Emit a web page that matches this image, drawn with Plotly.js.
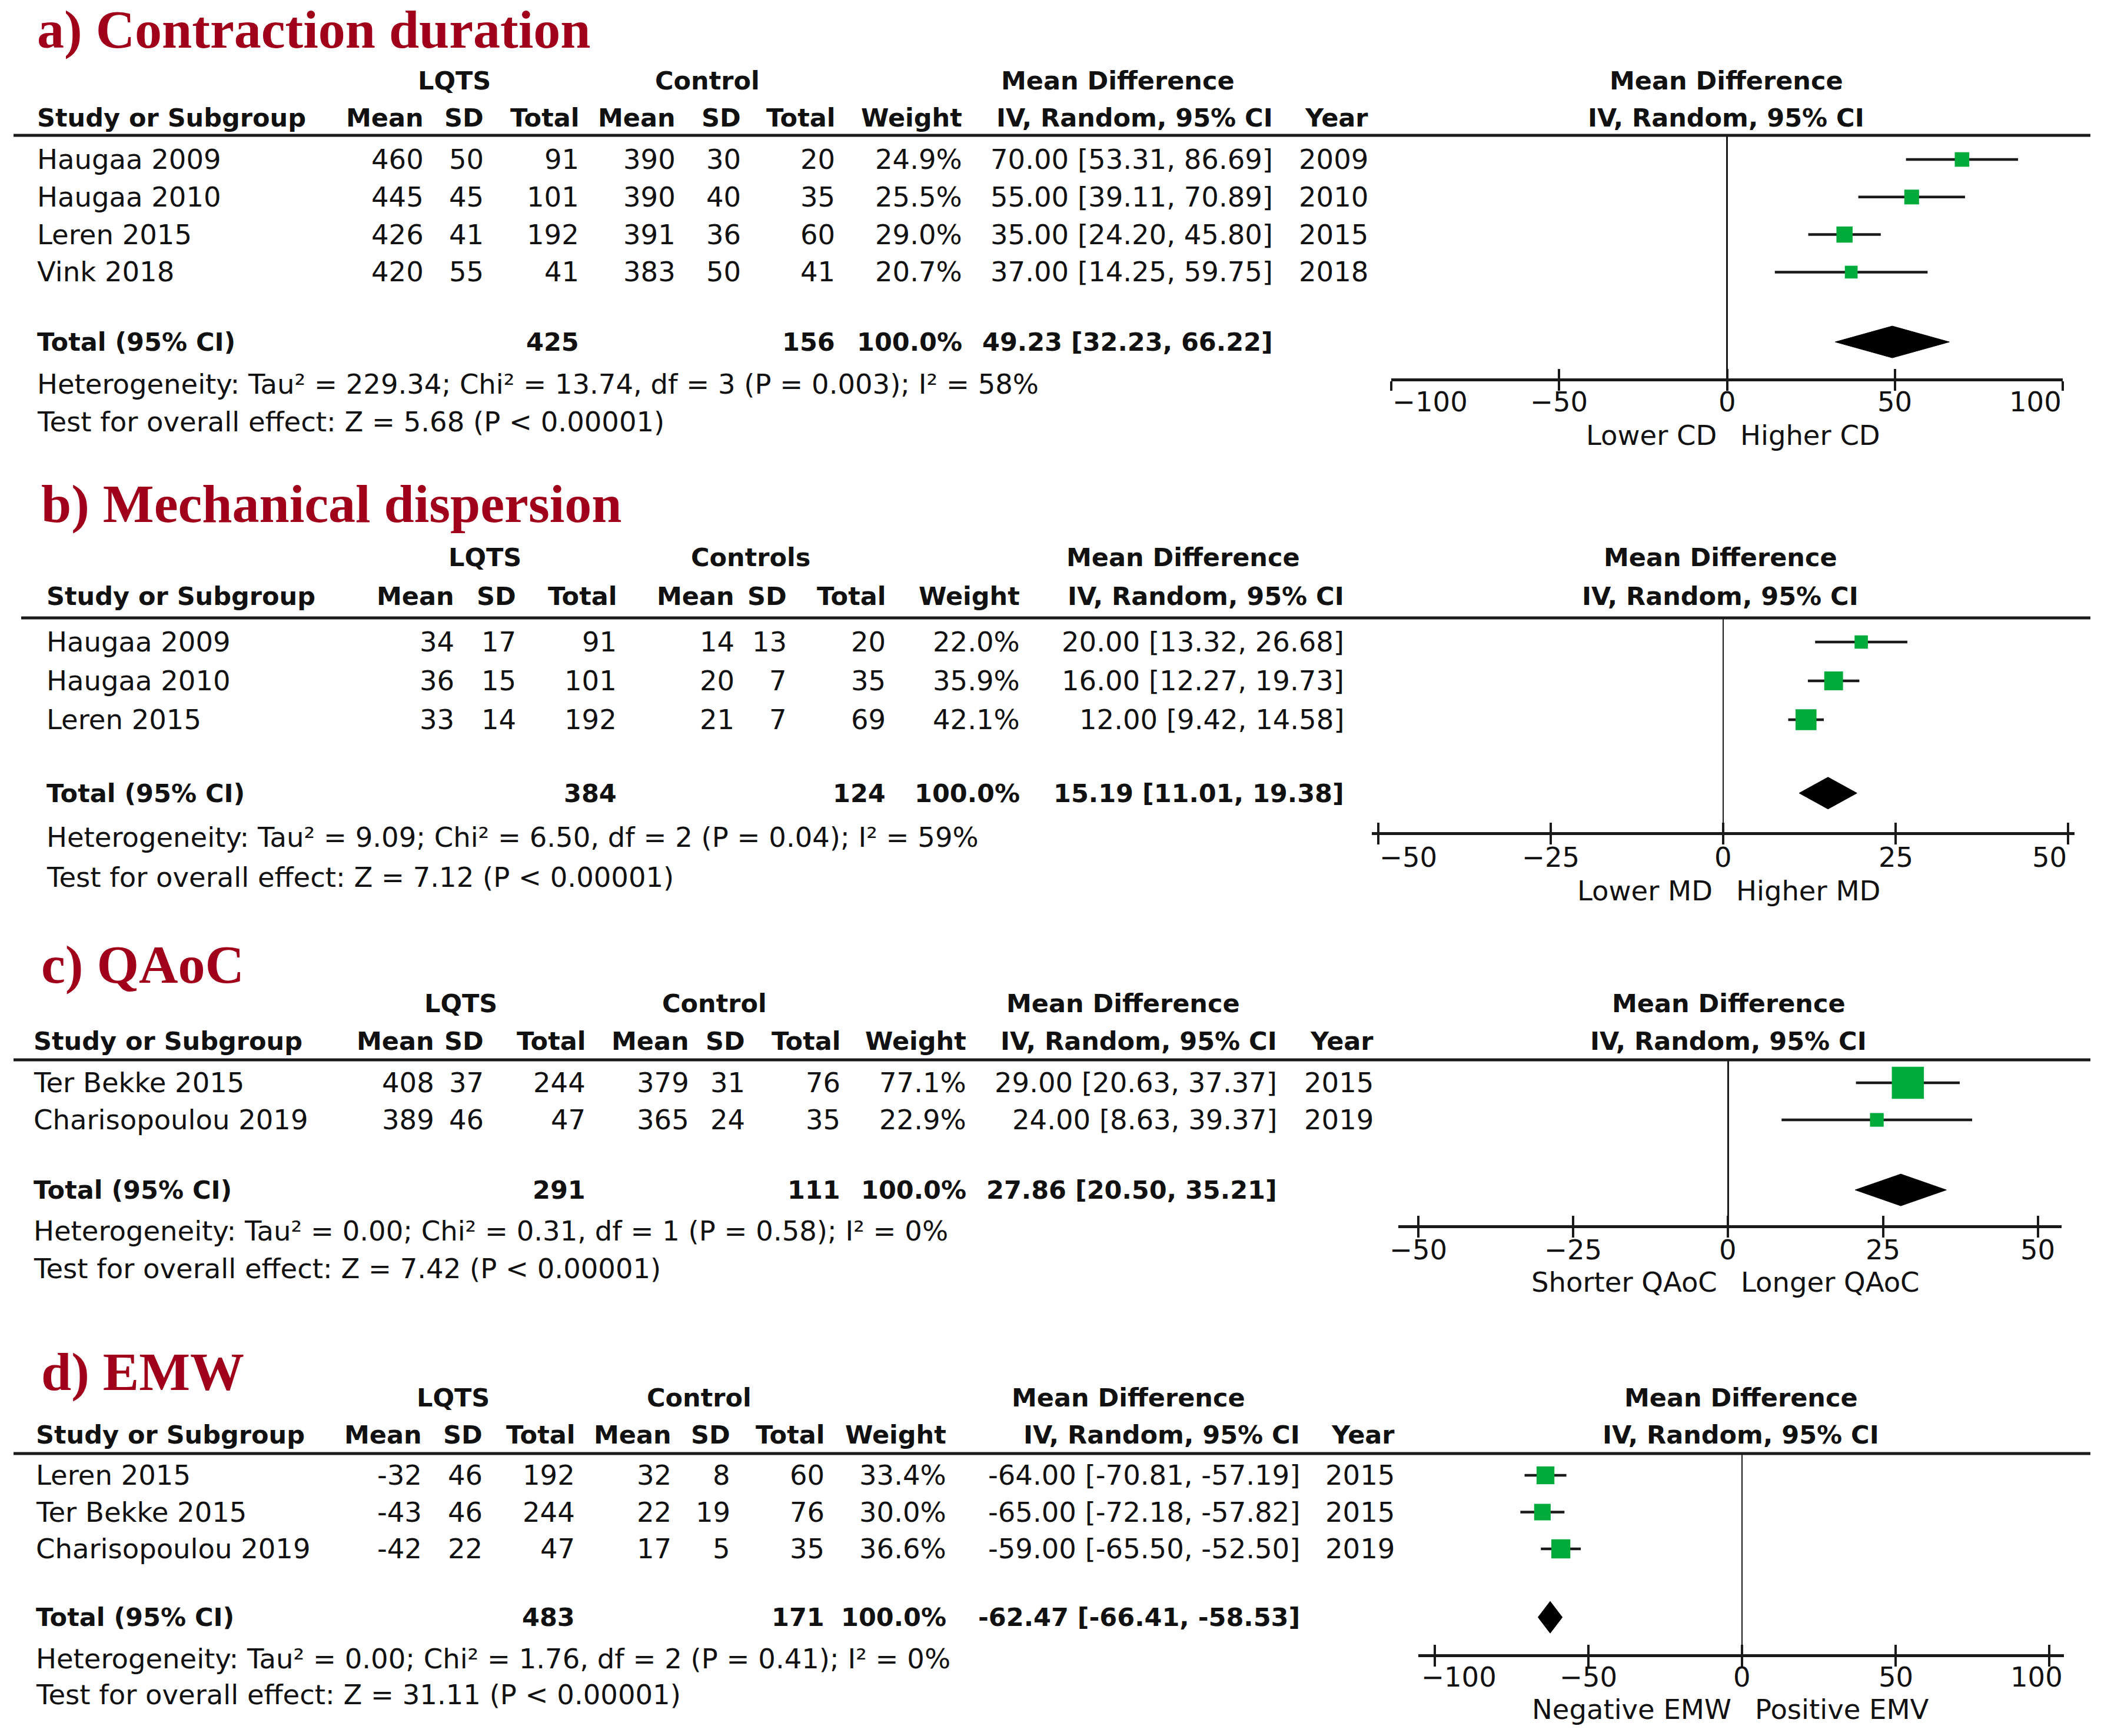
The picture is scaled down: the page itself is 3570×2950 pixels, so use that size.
<!DOCTYPE html>
<html><head><meta charset="utf-8">
<script src="https://cdn.plot.ly/plotly-3.0.1.min.js"></script>
<style>html,body{margin:0;padding:0;background:#fff}</style>
</head><body><div id="chart" style="width:3570px;height:2950px"></div>
<script>
const W = 3570, H = 2950;

// ---------- a) Contraction duration ----------
const aTitle = 'a) Contraction duration';
const aGroups = ['LQTS', 'Control'];
const aStudy = ['Haugaa 2009', 'Haugaa 2010', 'Leren 2015', 'Vink 2018'];
const aLqtsMean = [460, 445, 426, 420];
const aLqtsSD = [50, 45, 41, 55];
const aLqtsN = [91, 101, 192, 41];
const aCtrlMean = [390, 390, 391, 383];
const aCtrlSD = [30, 40, 36, 50];
const aCtrlN = [20, 35, 60, 41];
const aWeight = [24.9, 25.5, 29.0, 20.7];
const aMD = [70.00, 55.00, 35.00, 37.00];
const aLo = [53.31, 39.11, 24.20, 14.25];
const aHi = [86.69, 70.89, 45.80, 59.75];
const aYear = [2009, 2010, 2015, 2018];
const aTotalN = [425, 156];
const aTotalW = 100.0;
const aPooled = [49.23, 32.23, 66.22];
const aHet = 'Heterogeneity: Tau\u00b2 = 229.34; Chi\u00b2 = 13.74, df = 3 (P = 0.003); I\u00b2 = 58%';
const aTest = 'Test for overall effect: Z = 5.68 (P &lt; 0.00001)';
const aTicks = [-100, -50, 0, 50, 100];
const aDir = ['Lower CD', 'Higher CD'];

// ---------- b) Mechanical dispersion ----------
const bTitle = 'b) Mechanical dispersion';
const bGroups = ['LQTS', 'Controls'];
const bStudy = ['Haugaa 2009', 'Haugaa 2010', 'Leren 2015'];
const bLqtsMean = [34, 36, 33];
const bLqtsSD = [17, 15, 14];
const bLqtsN = [91, 101, 192];
const bCtrlMean = [14, 20, 21];
const bCtrlSD = [13, 7, 7];
const bCtrlN = [20, 35, 69];
const bWeight = [22.0, 35.9, 42.1];
const bMD = [20.00, 16.00, 12.00];
const bLo = [13.32, 12.27, 9.42];
const bHi = [26.68, 19.73, 14.58];
const bYear = null;
const bTotalN = [384, 124];
const bTotalW = 100.0;
const bPooled = [15.19, 11.01, 19.38];
const bHet = 'Heterogeneity: Tau\u00b2 = 9.09; Chi\u00b2 = 6.50, df = 2 (P = 0.04); I\u00b2 = 59%';
const bTest = 'Test for overall effect: Z = 7.12 (P &lt; 0.00001)';
const bTicks = [-50, -25, 0, 25, 50];
const bDir = ['Lower MD', 'Higher MD'];

// ---------- c) QAoC ----------
const cTitle = 'c) QAoC';
const cGroups = ['LQTS', 'Control'];
const cStudy = ['Ter Bekke 2015', 'Charisopoulou 2019'];
const cLqtsMean = [408, 389];
const cLqtsSD = [37, 46];
const cLqtsN = [244, 47];
const cCtrlMean = [379, 365];
const cCtrlSD = [31, 24];
const cCtrlN = [76, 35];
const cWeight = [77.1, 22.9];
const cMD = [29.00, 24.00];
const cLo = [20.63, 8.63];
const cHi = [37.37, 39.37];
const cYear = [2015, 2019];
const cTotalN = [291, 111];
const cTotalW = 100.0;
const cPooled = [27.86, 20.50, 35.21];
const cHet = 'Heterogeneity: Tau\u00b2 = 0.00; Chi\u00b2 = 0.31, df = 1 (P = 0.58); I\u00b2 = 0%';
const cTest = 'Test for overall effect: Z = 7.42 (P &lt; 0.00001)';
const cTicks = [-50, -25, 0, 25, 50];
const cDir = ['Shorter QAoC', 'Longer QAoC'];

// ---------- d) EMW ----------
const dTitle = 'd) EMW';
const dGroups = ['LQTS', 'Control'];
const dStudy = ['Leren 2015', 'Ter Bekke 2015', 'Charisopoulou 2019'];
const dLqtsMean = [-32, -43, -42];
const dLqtsSD = [46, 46, 22];
const dLqtsN = [192, 244, 47];
const dCtrlMean = [32, 22, 17];
const dCtrlSD = [8, 19, 5];
const dCtrlN = [60, 76, 35];
const dWeight = [33.4, 30.0, 36.6];
const dMD = [-64.00, -65.00, -59.00];
const dLo = [-70.81, -72.18, -65.50];
const dHi = [-57.19, -57.82, -52.50];
const dYear = [2015, 2015, 2019];
const dTotalN = [483, 171];
const dTotalW = 100.0;
const dPooled = [-62.47, -66.41, -58.53];
const dHet = 'Heterogeneity: Tau\u00b2 = 0.00; Chi\u00b2 = 1.76, df = 2 (P = 0.41); I\u00b2 = 0%';
const dTest = 'Test for overall effect: Z = 31.11 (P &lt; 0.00001)';
const dTicks = [-100, -50, 0, 50, 100];
const dDir = ['Negative EMW', 'Positive EMV'];

// ---------- panel assembly (data refs + placement in px) ----------
const panels = [
  {title:aTitle, groups:aGroups, study:aStudy, m1:aLqtsMean, sd1:aLqtsSD, n1:aLqtsN, m2:aCtrlMean, sd2:aCtrlSD, n2:aCtrlN,
   w:aWeight, md:aMD, lo:aLo, hi:aHi, year:aYear, totN:aTotalN, totW:aTotalW, pooled:aPooled, het:aHet, test:aTest, ticks:aTicks, dir:aDir,
   L:{titleX:61, titleY:50, h1Y:137, h2Y:200, lineY:230, lineX0:23, rowStart:271, gap:63.8, totalOff:1.86, axisY:643,
      tickY:683, dirY:740, hetY:653, testY:717,
      cols:{study:61, m1:722, sd1:824, n1:986, m2:1150, sd2:1261, n2:1421, w:1637, ci:2165, year:2327},
      hdr:{lqts:772, ctrl:1202, md:1899, forest:2933}, xDom:[2364, 3505], xRange:[-100, 100], endAlign:'edge', endShift:0}},
  {title:bTitle, groups:bGroups, study:bStudy, m1:bLqtsMean, sd1:bLqtsSD, n1:bLqtsN, m2:bCtrlMean, sd2:bCtrlSD, n2:bCtrlN,
   w:bWeight, md:bMD, lo:bLo, hi:bHi, year:bYear, totN:bTotalN, totW:bTotalW, pooled:bPooled, het:bHet, test:bTest, ticks:bTicks, dir:bDir,
   L:{titleX:68, titleY:856, h1Y:947, h2Y:1013, lineY:1050, lineX0:36, rowStart:1091, gap:66, totalOff:1.89, axisY:1414,
      tickY:1457, dirY:1514, hetY:1423, testY:1491,
      cols:{study:77, m1:774, sd1:879, n1:1050, m2:1250, sd2:1339, n2:1507, w:1735, ci:2286, year:null},
      hdr:{lqts:824, ctrl:1275, md:2010, forest:2923}, xDom:[2331, 3525], xRange:[-50.9, 50.9], endAlign:'edge', endShift:0}},
  {title:cTitle, groups:cGroups, study:cStudy, m1:cLqtsMean, sd1:cLqtsSD, n1:cLqtsN, m2:cCtrlMean, sd2:cCtrlSD, n2:cCtrlN,
   w:cWeight, md:cMD, lo:cLo, hi:cHi, year:cYear, totN:cTotalN, totW:cTotalW, pooled:cPooled, het:cHet, test:cTest, ticks:cTicks, dir:cDir,
   L:{titleX:68, titleY:1639, h1Y:1705, h2Y:1769, lineY:1801, lineX0:23, rowStart:1840, gap:63, totalOff:1.89, axisY:2082,
      tickY:2124, dirY:2179, hetY:2092, testY:2156,
      cols:{study:55, m1:740, sd1:824, n1:997, m2:1173, sd2:1268, n2:1430, w:1644, ci:2172, year:2336},
      hdr:{lqts:783, ctrl:1214, md:1908, forest:2937}, xDom:[2376, 3503], xRange:[-53.2, 53.8], endAlign:'center', endShift:0}},
  {title:dTitle, groups:dGroups, study:dStudy, m1:dLqtsMean, sd1:dLqtsSD, n1:dLqtsN, m2:dCtrlMean, sd2:dCtrlSD, n2:dCtrlN,
   w:dWeight, md:dMD, lo:dLo, hi:dHi, year:dYear, totN:dTotalN, totW:dTotalW, pooled:dPooled, het:dHet, test:dTest, ticks:dTicks, dir:dDir,
   L:{titleX:68, titleY:2331, h1Y:2375, h2Y:2438, lineY:2470, lineX0:23, rowStart:2507, gap:62.5, totalOff:1.86, axisY:2811,
      tickY:2850, dirY:2905, hetY:2819, testY:2880,
      cols:{study:59, m1:719, sd1:822, n1:979, m2:1143, sd2:1243, n2:1403, w:1610, ci:2211, year:2372},
      hdr:{lqts:770, ctrl:1188, md:1917, forest:2958}, xDom:[2410, 3507], xRange:[-105.4, 104.8], endAlign:'outer', endShift:25}}
];

const FONT = 'DejaVu Sans, Verdana, sans-serif';
const FS = 46.5, FSB = 43;
const INK = '#111111';
const LINEC = '#1a1a1a';
const GREEN = '#00ab3c';
const RED = '#a0001a';

const px = v => v / W;
const py = v => 1 - v / H;
const fmt2 = v => v.toFixed(2);
const ciText = (m, l, h) => fmt2(m) + ' [' + fmt2(l) + ', ' + fmt2(h) + ']';

const traces = [];
const annotations = [];
const shapes = [];
const layout = {
  width: W, height: H, margin: {l:0, r:0, t:0, b:0},
  paper_bgcolor: '#ffffff', plot_bgcolor: 'rgba(0,0,0,0)',
  showlegend: false, hovermode: false,
  font: {family: FONT, size: FS, color: INK}
};

function txt(text, x, y, xanchor, bold) {
  annotations.push({
    text: bold ? '<b>' + text + '</b>' : text, x: x, y: y, xref: 'paper', yref: 'paper',
    xanchor: xanchor, yanchor: 'middle', showarrow: false,
    font: {family: FONT, size: bold ? FSB : FS, color: INK}
  });
}

panels.forEach((P, k) => {
  const L = P.L;
  const s = k === 0 ? '' : String(k + 1);
  const sOv = String(k + 5);
  const yr = v => (v - L.rowStart) / L.gap;
  const n = P.study.length;
  const tRow = (n - 1) + L.totalOff;

  layout['yaxis' + s] = {
    domain: [py(L.axisY), py(L.lineY)], range: [yr(L.axisY), yr(L.lineY)],
    anchor: 'x' + s, showgrid: false, zeroline: false, showline: false,
    showticklabels: false, ticks: '', fixedrange: true
  };
  layout['xaxis' + s] = {
    domain: [px(L.xDom[0]), px(L.xDom[1])], range: L.xRange, anchor: 'y' + s,
    showline: true, linewidth: 5, linecolor: LINEC, mirror: false,
    ticks: 'outside', ticklen: 16, tickwidth: 4, tickcolor: LINEC,
    tickmode: 'array', tickvals: P.ticks, showticklabels: false,
    zeroline: true, zerolinewidth: 2.5, zerolinecolor: LINEC, showgrid: false, fixedrange: true
  };
  layout['xaxis' + sOv] = {
    overlaying: 'x' + s, anchor: 'y' + s, range: L.xRange,
    showline: false, ticks: 'inside', ticklen: 16, tickwidth: 4, tickcolor: LINEC,
    tickmode: 'array', tickvals: P.ticks, showticklabels: false,
    zeroline: false, showgrid: false, fixedrange: true
  };

  // invisible anchor trace for overlay tick axis
  traces.push({x: [0], y: [0], xaxis: 'x' + sOv, yaxis: 'y' + s, mode: 'markers',
               marker: {opacity: 0, size: 1}, hoverinfo: 'skip'});

  // confidence intervals
  const cx = [], cy = [];
  P.md.forEach((m, i) => { cx.push(P.lo[i], P.hi[i], null); cy.push(i, i, null); });
  traces.push({x: cx, y: cy, xaxis: 'x' + s, yaxis: 'y' + s, mode: 'lines',
               line: {color: LINEC, width: 4.5}, hoverinfo: 'skip'});
  // study squares (size by weight)
  traces.push({x: P.md, y: P.md.map((m, i) => i), xaxis: 'x' + s, yaxis: 'y' + s, mode: 'markers',
               marker: {symbol: 'square', color: GREEN, opacity: 1, size: P.w.map(w => 2.6 * Math.pow(w, 0.7)), line: {width: 0}},
               hoverinfo: 'skip'});
  // pooled diamond
  const hh = 27 / L.gap;
  traces.push({x: [P.pooled[1], P.pooled[0], P.pooled[2], P.pooled[0], P.pooled[1]],
               y: [tRow, tRow - hh, tRow, tRow + hh, tRow],
               xaxis: 'x' + s, yaxis: 'y' + s, mode: 'lines', fill: 'toself',
               fillcolor: '#000000', line: {color: '#000000', width: 1}, hoverinfo: 'skip'});

  // header rule
  shapes.push({type: 'line', xref: 'paper', yref: 'paper', x0: px(L.lineX0), x1: px(3552),
               y0: py(L.lineY), y1: py(L.lineY), line: {color: LINEC, width: 5}});

  // title
  annotations.push({text: '<b>' + P.title + '</b>', x: px(L.titleX), y: py(L.titleY), xref: 'paper', yref: 'paper',
                    xanchor: 'left', yanchor: 'middle', showarrow: false,
                    font: {family: 'Liberation Serif, Times New Roman, serif', size: 92, color: RED}});

  const C = L.cols;
  // header row 1
  txt(P.groups[0], px(L.hdr.lqts), py(L.h1Y), 'center', true);
  txt(P.groups[1], px(L.hdr.ctrl), py(L.h1Y), 'center', true);
  txt('Mean Difference', px(L.hdr.md), py(L.h1Y), 'center', true);
  txt('Mean Difference', px(L.hdr.forest), py(L.h1Y), 'center', true);
  // header row 2
  txt('Study or Subgroup', px(C.study), py(L.h2Y), 'left', true);
  [['Mean', C.m1], ['SD', C.sd1], ['Total', C.n1], ['Mean', C.m2], ['SD', C.sd2], ['Total', C.n2],
   ['Weight', C.w], ['IV, Random, 95% CI', C.ci]].forEach(h => txt(h[0], px(h[1]), py(L.h2Y), 'right', true));
  if (C.year) txt('Year', px(C.year), py(L.h2Y), 'right', true);
  txt('IV, Random, 95% CI', px(L.hdr.forest), py(L.h2Y), 'center', true);

  // study rows (y through the panel's own axis)
  const rowTxt = (text, x, i, anchor, bold) => annotations.push({
    text: bold ? '<b>' + text + '</b>' : text, x: px(x), y: i, xref: 'paper', yref: 'y' + s,
    xanchor: anchor, yanchor: 'middle', showarrow: false,
    font: {family: FONT, size: bold ? FSB : FS, color: INK}});
  P.study.forEach((st, i) => {
    rowTxt(st, C.study, i, 'left');
    rowTxt(String(P.m1[i]), C.m1, i, 'right');
    rowTxt(String(P.sd1[i]), C.sd1, i, 'right');
    rowTxt(String(P.n1[i]), C.n1, i, 'right');
    rowTxt(String(P.m2[i]), C.m2, i, 'right');
    rowTxt(String(P.sd2[i]), C.sd2, i, 'right');
    rowTxt(String(P.n2[i]), C.n2, i, 'right');
    rowTxt(P.w[i].toFixed(1) + '%', C.w, i, 'right');
    rowTxt(ciText(P.md[i], P.lo[i], P.hi[i]), C.ci, i, 'right');
    if (P.year) rowTxt(String(P.year[i]), C.year, i, 'right');
  });
  // total row
  rowTxt('Total (95% CI)', C.study, tRow, 'left', true);
  rowTxt(String(P.totN[0]), C.n1, tRow, 'right', true);
  rowTxt(String(P.totN[1]), C.n2, tRow, 'right', true);
  rowTxt(P.totW.toFixed(1) + '%', C.w, tRow, 'right', true);
  rowTxt(ciText(P.pooled[0], P.pooled[1], P.pooled[2]), C.ci, tRow, 'right', true);

  // heterogeneity / overall effect
  txt(P.het, px(C.study), py(L.hetY), 'left', false);
  txt(P.test, px(C.study), py(L.testY), 'left', false);

  // tick labels
  P.ticks.forEach((t, j) => {
    let anchor = 'center', shift = 0;
    if (L.endAlign !== 'center') {
      if (j === 0) { anchor = 'left'; shift = -L.endShift; }
      if (j === P.ticks.length - 1) { anchor = 'right'; shift = L.endShift; }
    }
    annotations.push({text: String(t).replace('-', '\u2212'), x: t, y: py(L.tickY), xref: 'x' + s, yref: 'paper',
                      xanchor: anchor, yanchor: 'middle', xshift: shift, showarrow: false,
                      font: {family: FONT, size: FS, color: INK}});
  });
  // direction labels
  annotations.push({text: P.dir[0], x: 0, y: py(L.dirY), xref: 'x' + s, yref: 'paper', xanchor: 'right', yanchor: 'middle',
                    xshift: -16, showarrow: false, font: {family: FONT, size: FS, color: INK}});
  annotations.push({text: P.dir[1], x: 0, y: py(L.dirY), xref: 'x' + s, yref: 'paper', xanchor: 'left', yanchor: 'middle',
                    xshift: 20, showarrow: false, font: {family: FONT, size: FS, color: INK}});
});

layout.annotations = annotations;
layout.shapes = shapes;

Plotly.newPlot('chart', traces, layout, {staticPlot: true, displayModeBar: false});
</script></body></html>
